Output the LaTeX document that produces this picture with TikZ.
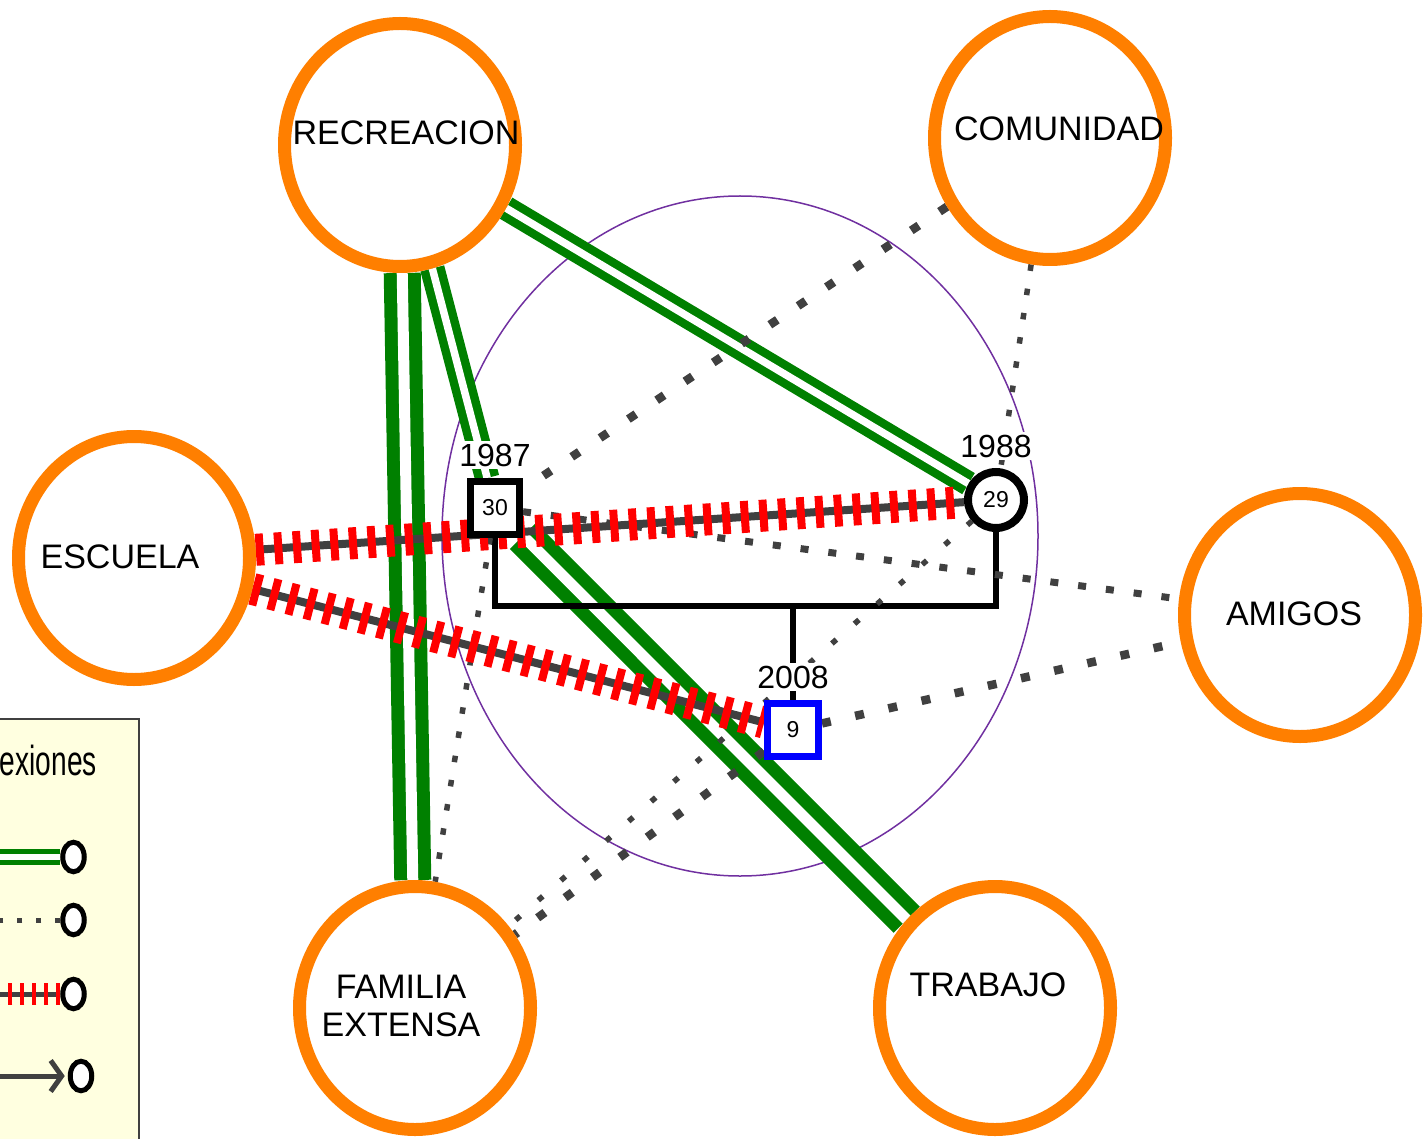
\documentclass[tikz,border=0pt]{standalone}
\usepackage{fontspec}
\setmainfont{Liberation Sans}
\usetikzlibrary{shapes.geometric,arrows.meta}
\pgfdeclarelayer{back}
\pgfdeclarelayer{edges}
\pgfsetlayers{back,edges,main}
\definecolor{orng}{RGB}{255,127,0}
\definecolor{grn}{RGB}{0,128,0}
\definecolor{dgray}{RGB}{64,64,64}
\definecolor{purp}{RGB}{112,48,160}
\definecolor{legfill}{RGB}{255,255,224}
\definecolor{pblue}{RGB}{0,0,255}
\tikzset{
 area/.style={ellipse, draw=orng, line width=13pt, fill=white, minimum width=231pt, minimum height=243pt, inner sep=0pt},
 lbl/.style={font=\fontsize{34}{40}\selectfont, inner sep=0pt, align=center},
 yearlbl/.style={font=\fontsize{32}{36}\selectfont, fill=white, inner sep=3pt},
 person/.style={draw=black, line width=7pt, fill=white, font=\fontsize{23}{26}\selectfont, inner sep=0pt},
 strongA/.style={draw=grn, line width=13pt, double=white, double distance=11pt},
 strongB/.style={draw=grn, line width=8.5pt, double=white, double distance=7.5pt},
 weakA/.style={draw=dgray, line width=8.5pt, dash pattern=on 9pt off 25pt},
 weakB/.style={draw=dgray, line width=7pt, dash pattern=on 8pt off 20pt},
 weakC/.style={draw=dgray, line width=5.5pt, dash pattern=on 6.5pt off 18pt},
 weakD/.style={draw=dgray, line width=5.5pt, dash pattern=on 6pt off 24pt},
 conflict/.style={draw=dgray, line width=8pt, postaction={draw=red, line width=32pt, dash pattern=on 8pt off 10.7pt}},
 famline/.style={draw=black, line width=5.5pt},
 legc/.style={ellipse, draw=black, line width=5pt, fill=white, minimum width=21.5pt, minimum height=29.5pt, inner sep=0pt},
}
\begin{document}
\begin{tikzpicture}[x=1pt,y=-1pt]
\useasboundingbox (0,0) rectangle (1426,1139);
\clip (0,0) rectangle (1426,1139);

% areas
\node[area] (rec) at (400,145) {};
\node[area] (com) at (1050,138) {};
\node[area] (esc) at (134,558) {};
\node[area] (ami) at (1300,615) {};
\node[area] (fam) at (415,1008) {};
\node[area] (trab) at (995,1008) {};
\node[lbl] (recT) at (406,133) {RECREACION};
\node[lbl] (comT) at (1059,129) {COMUNIDAD};
\node[lbl] (escT) at (120,557) {ESCUELA};
\node[lbl] (amiT) at (1294,614) {AMIGOS};
\node[lbl] (famT) at (401,1006) {FAMILIA\\[-2pt]EXTENSA};
\node[lbl] (trabT) at (988,985) {TRABAJO};

% persons
\node[person, minimum width=49pt, minimum height=53pt] (p30) at (495,508) {30};
\node[person, circle, line width=8pt, minimum size=56pt] (p29) at (996,500) {29};
\node[person, draw=pblue, minimum width=51pt, minimum height=53pt] (p9) at (793,730) {9};
\node[yearlbl] (y87) at (495,455) {1987};
\node[yearlbl] (y88) at (996,446) {1988};
\node[yearlbl] (y08) at (793,677) {2008};
\coordinate (barY) at (0,606);

\begin{pgfonlayer}{back}
\draw[purp, line width=1.5pt] (740,536) ellipse [x radius=298pt, y radius=340pt];
\end{pgfonlayer}

\begin{pgfonlayer}{edges}
\draw[strongA] (rec) -- (fam);
\draw[strongA] (p30) -- (trab);
\draw[strongB] (rec) -- (p29);
\draw[strongB] (rec) -- (p30);
\draw[famline] (p30.south) -- (p30.south |- barY) -- (p29.south |- barY) -- (p29.south);
\draw[famline] (p9.north |- barY) -- (p9.north);
\draw[weakA] (com) -- (p30);
\draw[weakC] (com) -- (p29);
\draw[weakB] (p30) -- (ami);
\draw[weakA] (p9) -- (ami);
\draw[weakD] (p29) -- (fam);
\draw[weakA] (p9) -- (fam);
\draw[weakC] (p30) -- (fam);
\draw[conflict] (esc) -- (p29);
\draw[conflict] (esc) -- (p9);
\end{pgfonlayer}

% legend
\draw[draw=dgray, line width=2pt, fill=legfill] (-20,719) rectangle (139,1170);
\node[font=\fontsize{42}{42}\selectfont, xscale=0.67, anchor=base east, inner sep=0pt] (legT) at (97,775) {Conexiones};
\node[legc] (l1) at (73.5,857) {};
\node[legc] (l2) at (73.5,920) {};
\node[legc] (l3) at (73.5,994) {};
\node[legc] (l4) at (81,1076) {};
\coordinate (l1s) at (-10,857);
\coordinate (l2s) at (-10,920);
\coordinate (l3s) at (-10,994);
\coordinate (l4s) at (-10,1076);
\draw[draw=grn, line width=4.5pt, double=white, double distance=6.5pt] (l1s) -- (l1);
\draw[draw=dgray, line width=5pt, dash pattern=on 5pt off 14pt] (l2) -- (l2s);
\draw[draw=dgray, line width=5pt, postaction={draw=red, line width=22pt, dash pattern=on 4.5pt off 7.5pt}] (l3) -- (l3s);
\draw[draw=dgray, line width=5pt, shorten >=3pt, -{Straight Barb[length=11pt, width=31pt, line width=5pt]}] (l4s) -- (l4);
\end{tikzpicture}
\end{document}
